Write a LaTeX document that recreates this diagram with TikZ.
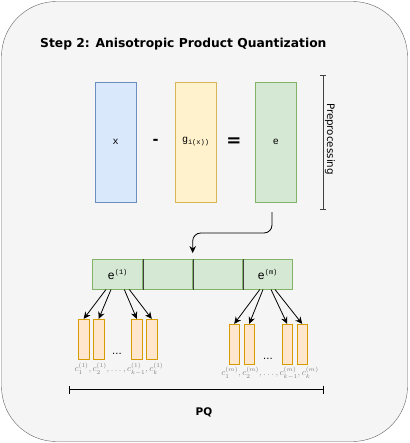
\documentclass[tikz,border=0pt]{standalone}
\usepackage{fontspec}
\setmainfont{DejaVu Sans}
\setmonofont{Liberation Mono}
\usetikzlibrary{arrows.meta}

\definecolor{panelfill}{HTML}{F5F5F5}
\definecolor{paneldraw}{HTML}{666666}
\definecolor{bluefill}{HTML}{DAE8FC}
\definecolor{bluedraw}{HTML}{6C8EBF}
\definecolor{yellowfill}{HTML}{FFF2CC}
\definecolor{yellowdraw}{HTML}{D6B656}
\definecolor{greenfill}{HTML}{D5E8D4}
\definecolor{greendraw}{HTML}{82B366}
\definecolor{orangefill}{HTML}{FFE6CC}
\definecolor{orangedraw}{HTML}{D79B00}

\tikzset{
  vecbox/.style={draw,minimum width=41pt,minimum height=120pt,inner sep=0pt,font=\ttfamily\normalsize},
  cell/.style={draw=greendraw,fill=greenfill,minimum width=50pt,minimum height=30pt,inner sep=0pt,font=\ttfamily\large},
  codeword/.style={draw=orangedraw,fill=orangefill,line width=0.8pt,minimum width=10.5pt,minimum height=40pt,inner sep=0pt},
  arr/.style={-{Stealth[length=7pt,width=6.5pt]},line width=0.8pt},
  clabel/.style={text=gray,font=\small,inner sep=0pt},
  opsign/.style={font=\bfseries,inner sep=0pt},
}

\begin{document}
\begin{tikzpicture}[x=1pt,y=-1pt]
\useasboundingbox (0,0) rectangle (409,443);
\draw[draw=paneldraw,fill=panelfill,rounded corners=55pt] (1.5,1.5) rectangle (407.5,441.5);
\node[anchor=west,font=\bfseries\fontsize{12.3}{14}\selectfont,inner sep=0pt] (title) at (40,44) {Step 2: Anisotropic Product Quantization};
% preprocessing
\node[vecbox,draw=bluedraw,fill=bluefill] (x) at (115.5,142) {x};
\node[opsign,font=\bfseries\Large] (minus) at (155.5,142) {-};
\node[vecbox,draw=yellowdraw,fill=yellowfill] (g) at (195.5,142) {g\raisebox{-2pt}{\scriptsize i(x))}};
\node[opsign,font=\bfseries\fontsize{18}{18}\selectfont] (equal) at (234,142) {=};
\node[vecbox,draw=greendraw,fill=greenfill] (e) at (275.8,142) {e};
\draw[{Bar[width=6pt]}-{Bar[width=6pt]},draw=black!75] (323,75) coordinate (pretop) -- (323,209) coordinate (prebot);
\node[rotate=-90,font=\fontsize{10.3}{12}\selectfont,inner sep=0pt] (pre) at (330,139) {Preprocessing};
% split into segments
\node[cell] (cell1) at (117.5,274.3) {e\raisebox{5pt}{\scriptsize (1)}};
\node[cell] (cell2) at (167.5,274.3) {};
\node[cell] (cell3) at (217.5,274.3) {};
\node[cell] (cell4) at (267.5,274.3) {e\raisebox{5pt}{\scriptsize (m)}};
\draw[black!75] (cell1.north east) -- (cell1.south east);
\draw[black!75] (cell2.north east) -- (cell2.south east);
\draw[black!75] (cell3.north east) -- (cell3.south east);
\coordinate (from) at (272,212);
\draw[arr,rounded corners=8pt] (from) -- ++(0,21) -| ([yshift=6pt]cell2.north east);
% codewords of first segment
\node[codeword] (q11) at (83.7,339.3) {};
\node[codeword] (q12) at (98.7,339.3) {};
\node[codeword] (q13) at (136.8,339.3) {};
\node[codeword] (q14) at (151.8,339.3) {};
\node[inner sep=0pt] (dots1) at (117,354) {...};
\draw[arr] ([xshift=-11.5pt]cell1.south) -- (q11.north);
\draw[arr] ([xshift=-6.5pt]cell1.south) -- (q12.north);
\draw[arr] ([xshift=6.8pt]cell1.south) -- (q13.north);
\draw[arr] ([xshift=11.8pt]cell1.south) -- (q14.north);
\node[clabel] (lab1) at (119,369) {$c_1^{(1)},c_2^{(1)},\ldots,c_{k-1}^{(1)},c_k^{(1)}$};
% codewords of last segment
\node[codeword] (qm1) at (234.2,344.3) {};
\node[codeword] (qm2) at (249.2,344.3) {};
\node[codeword] (qm3) at (287.2,344.3) {};
\node[codeword] (qm4) at (302.2,344.3) {};
\node[inner sep=0pt] (dotsm) at (268,359) {...};
\draw[arr] ([xshift=-7.7pt]cell4.south) -- (qm1.north);
\draw[arr] ([xshift=-4.5pt]cell4.south) -- (qm2.north);
\draw[arr] ([xshift=3.5pt]cell4.south) -- (qm3.north);
\draw[arr] ([xshift=7.5pt]cell4.south) -- (qm4.north);
\node[clabel] (labm) at (270,373) {$c_1^{(m)},c_2^{(m)},\ldots,c_{k-1}^{(m)},c_k^{(m)}$};
% PQ span
\draw[{Bar[width=8pt]}-{Bar[width=8pt]}] (69,389.5) coordinate (pqleft) -- (323,389.5) coordinate (pqright);
\node[font=\bfseries\fontsize{10.5}{12}\selectfont,inner sep=0pt] (pq) at (204,412) {PQ};
\end{tikzpicture}
\end{document}
